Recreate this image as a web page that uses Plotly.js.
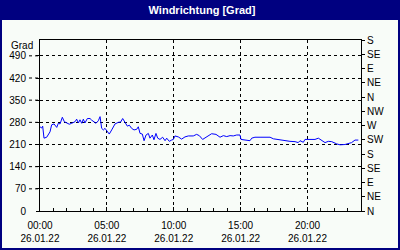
<!DOCTYPE html>
<html>
<head>
<meta charset="utf-8">
<script src="https://cdn.plot.ly/plotly-3.0.1.min.js"></script>
<style>html,body{margin:0;padding:0;background:#f8fcf8;}#chart{width:400px;height:250px;}</style>
</head>
<body>
<div id="chart"></div>
<script>
// time of day in hours (26.01.22)
const hours = [0.00,0.12,0.20,0.30,0.50,0.75,0.87,1.05,1.25,1.37,1.50,1.67,1.82,1.99,2.19,2.37,2.62,2.74,2.87,2.99,
  3.12,3.24,3.36,3.54,3.74,3.86,4.04,4.19,4.36,4.49,4.61,4.74,4.86,5.03,5.18,5.36,5.61,5.86,6.03,6.18,
  6.36,6.53,6.68,6.85,7.03,7.23,7.35,7.48,7.65,7.78,7.93,8.10,8.22,8.40,8.52,8.67,8.80,8.97,9.17,9.35,
  9.47,9.67,9.84,9.97,10.09,10.34,10.59,10.84,11.09,11.46,11.71,11.91,12.16,12.46,12.83,13.16,13.46,13.71,13.96,14.21,
  14.45,14.70,14.95,15.03,15.33,15.70,15.83,16.07,16.45,16.82,17.20,17.45,17.69,18.07,18.44,18.69,19.07,19.31,19.44,19.69,
  19.81,20.19,20.56,20.81,21.06,21.31,21.56,21.81,22.18,22.43,22.80,23.05,23.30,23.55,23.80];
// wind direction in degrees
const direction = [266,262,268,230,233,250,272,275,264,277,275,296,282,278,274,277,282,290,278,288,
  277,290,278,292,292,287,282,277,285,298,261,256,261,250,243,256,275,280,281,292,
  277,268,271,261,256,258,266,245,243,222,240,245,230,240,225,245,230,226,233,222,
  230,220,224,226,237,234,227,234,237,237,242,238,226,235,244,242,233,238,235,238,
  237,240,240,226,224,222,230,233,233,232,233,228,226,224,222,220,219,216,222,217,
  226,227,226,230,222,216,220,219,212,209,210,212,216,224,224];

const xTickVals = [0,5,10,15,20];
const xTickText = ['00:00<br>26.01.22','05:00<br>26.01.22','10:00<br>26.01.22','15:00<br>26.01.22','20:00<br>26.01.22'];
const yTickVals = [0,70,140,210,280,350,420,490];
const compassVals = [0,45,90,135,180,225,270,315,360,405,450,495,540];
const compassText = ['N','NE','E','SE','S','SW','W','NW','N','NE','E','SE','S'];

const FONT = 'Liberation Sans, Arial, sans-serif';
const NAVY = '#000080';
const L = 40, R = 361, T = 40, B = 211;
const px = v => (v - L) / (R - L);
const py = v => (B - v) / (B - T);

const traces = [
  {x: hours, y: direction, type: 'scatter', mode: 'lines', line: {color: '#0000ff', width: 1}, hoverinfo: 'skip', showlegend: false},
  {x: [null], y: [null], yaxis: 'y2', type: 'scatter', mode: 'lines', hoverinfo: 'skip', showlegend: false}
];

// dashed extensions of the horizontal grid lines to the left of the axis
const gridStubs = yTickVals.filter(v => v > 0).map(v => ({
  type: 'line', xref: 'paper', yref: 'y', x0: px(29), x1: px(40), y0: v, y1: v,
  line: {color: '#000', width: 1, dash: '3px,3px'}, layer: 'above'
}));

const layout = {
  width: 400, height: 250,
  margin: {l: L, r: 400 - R, t: T, b: 250 - B, pad: 0},
  paper_bgcolor: '#f8fcf8', plot_bgcolor: '#f8fcf8',
  showlegend: false,
  font: {family: FONT, size: 10, color: '#000'},
  title: {text: 'Windrichtung [Grad]', font: {family: FONT, size: 11, color: '#fff', weight: 'bold'},
          xref: 'container', x: 0.505, yref: 'container', y: 1 - 10.5/250, yanchor: 'middle', xanchor: 'center'},
  xaxis: {range: [0, 24], tickmode: 'array', tickvals: xTickVals, ticktext: xTickText,
          ticks: 'inside', ticklen: 4, tickcolor: '#000', showline: true, linecolor: '#000', linewidth: 1, mirror: true,
          showgrid: true, gridcolor: '#000', griddash: '3px,3px', gridwidth: 1, zeroline: false,
          minor: {tickmode: 'linear', tick0: 0, dtick: 1, ticks: 'inside', ticklen: 3, tickcolor: '#000', showgrid: false},
          ticklabelstandoff: 5,
          tickfont: {family: FONT, size: 10, color: '#000'}, fixedrange: true},
  yaxis: {range: [0, 540], tickmode: 'array', tickvals: yTickVals,
          ticks: 'outside', ticklen: 3, tickcolor: '#000', showline: true, linecolor: '#000', linewidth: 1, mirror: true,
          showgrid: true, gridcolor: '#000', griddash: '3px,3px', gridwidth: 1, zeroline: false,
          ticklabelstandoff: 8,
          tickfont: {family: FONT, size: 10, color: '#000'}, fixedrange: true},
  yaxis2: {range: [0, 540], overlaying: 'y', side: 'right', tickmode: 'array', tickvals: compassVals, ticktext: compassText,
           ticks: 'outside', ticklen: 3, tickcolor: '#000', showline: true, linecolor: '#000', showgrid: false, zeroline: false,
           tickfont: {family: FONT, size: 10, color: '#000'}, fixedrange: true},
  annotations: [
    {text: 'Grad', xref: 'paper', yref: 'paper', x: px(35), y: py(45), xanchor: 'right', yanchor: 'middle',
     showarrow: false, font: {family: FONT, size: 10, color: '#000'}}
  ],
  shapes: [
    {type: 'rect', xref: 'paper', yref: 'paper', x0: px(0), x1: px(400), y0: py(20), y1: py(0), fillcolor: NAVY, line: {width: 0}, layer: 'below'},
    {type: 'rect', xref: 'paper', yref: 'paper', x0: px(0), x1: px(2), y0: py(250), y1: py(0), fillcolor: NAVY, line: {width: 0}, layer: 'below'},
    {type: 'rect', xref: 'paper', yref: 'paper', x0: px(398), x1: px(400), y0: py(250), y1: py(0), fillcolor: NAVY, line: {width: 0}, layer: 'below'},
    {type: 'rect', xref: 'paper', yref: 'paper', x0: px(0), x1: px(400), y0: py(250), y1: py(248), fillcolor: NAVY, line: {width: 0}, layer: 'below'}
  ].concat(gridStubs)
};

Plotly.newPlot('chart', traces, layout, {staticPlot: true, displayModeBar: false});
</script>
</body>
</html>
